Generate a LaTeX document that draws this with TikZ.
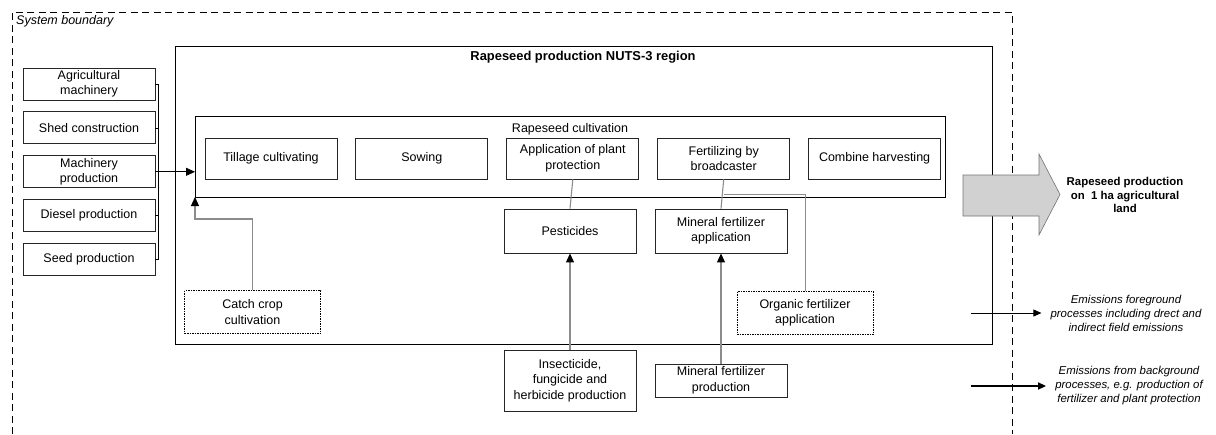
\documentclass[tikz,border=0pt]{standalone}
\usepackage{fontspec}
\setmainfont{Liberation Sans}
\usetikzlibrary{arrows.meta,positioning}

\begin{document}
\begin{tikzpicture}[x=1pt,y=-1pt,
  box/.style={draw=black!85,line width=0.9pt,minimum width=132pt,minimum height=41pt,inner sep=1pt,align=center,font=\fontsize{12.5}{15.5}\selectfont},
  inbox/.style={box,minimum height=32pt},
  optbox/.style={box,draw=black,dash pattern=on 1.5pt off 1pt,line width=0.7pt,minimum width=136pt,minimum height=43pt},
  flow/.style={draw=black!45,line width=1.1pt},
  tip/.style={-{Triangle[color=black,length=9pt,width=8pt]}},
  emis/.style={align=center,inner sep=0pt,font=\fontsize{11.4}{14}\selectfont\itshape}]
\useasboundingbox (0,0) rectangle (1216,434);
\draw[line width=0.9pt,dash pattern=on 7pt off 4.5pt] (12,434) -- (12,12) -- (1012,12) -- (1012,434);
\node[anchor=west,inner sep=2pt,font=\fontsize{12.5}{14}\selectfont\itshape] (sysb) at (14,21) {System boundary};

\node[draw,line width=1pt,minimum width=817pt,minimum height=298pt,inner sep=0pt,outer sep=0pt] (nuts) at (583.5,195) {};
\node[font=\fontsize{12.9}{15}\selectfont\bfseries] (title) at (583,57) {Rapeseed production NUTS-3 region};
\node[draw,line width=0.9pt,minimum width=750pt,minimum height=81pt,inner sep=0pt,outer sep=0pt] (cult) at (570,156.5) {};
\node[font=\fontsize{12.5}{15}\selectfont] (cultlbl) at (570,129) {Rapeseed cultivation};

\node[box] (till) at (271,158.5) {Tillage cultivating};
\node[box,right=18pt of till] (sow) {Sowing};
\node[box,right=18pt of sow] (appl) {Application of plant\\protection};
\node[box,right=18pt of appl] (fert) {Fertilizing by\\broadcaster};
\node[box,right=18pt of fert] (comb) {Combine harvesting};

\node[inbox] (agri) at (89,84) {Agricultural\\machinery};
\node[inbox,below=11pt of agri] (shed) {Shed construction};
\node[inbox,below=11pt of shed] (mach) {Machinery\\production};
\node[inbox,below=11pt of mach] (dies) {Diesel production};
\node[inbox,below=11pt of dies] (seed) {Seed production};
\foreach \n in {agri,shed,mach,dies,seed}
  \draw[line width=0.8pt] (\n.east) -- ++(3,0);
\draw[line width=0.8pt] ([xshift=3pt]agri.east) -- ([xshift=3pt]seed.east);
\draw[line width=0.8pt,tip] ([xshift=3pt]mach.east) -- (cult.west |- mach.east);

\node[optbox] (catch) at (252.5,312) {Catch crop\\cultivation};
\coordinate (bend) at ([yshift=-22pt]cult.south west);
\draw[flow,tip] (catch.north) |- (bend) -- (cult.south west);

\node[box,minimum height=44pt] (pest) at (570,231) {Pesticides};
\node[box,minimum height=44pt] (mfa) at (721,231) {Mineral fertilizer\\application};
\node[box,minimum height=61pt] (insect) at (570,380.5) {Insecticide,\\fungicide and\\herbicide production};
\node[box,minimum height=33pt] (mfp) at (721,380.5) {Mineral fertilizer\\production};
\draw[flow] (appl.south) -- (pest.north);
\draw[flow] (fert.south) -- (mfa.north);
\draw[flow,tip] (insect.north) -- (pest.south);
\draw[flow,tip] (mfp.north) -- (mfa.south);

\node[optbox] (org) at (805,313) {Organic fertilizer\\application};
\coordinate (ojoin) at ([yshift=-15pt]fert.south);
\draw[flow,line width=0.8pt] (org.north) |- (ojoin);

\draw[draw=black!55,line width=0.6pt,fill=black!18] (963,175) -- (1039,175) -- (1039,154) -- (1060,194.5)
  -- (1039,235) -- (1039,216) -- (963,216) -- cycle;
\node[align=center,inner sep=0pt,font=\fontsize{11.4}{13.5}\selectfont\bfseries] (out) at (1125,195)
  {Rapeseed production\\on\ \ 1 ha agricultural\\land};

\coordinate (fg) at (971,313);
\coordinate (bg) at (971,386);
\node[emis] (fgtxt) at (1126,313) {Emissions foreground\\processes including drect and\\indirect field emissions};
\node[emis] (bgtxt) at (1129,386) {Emissions from background\\processes, e.g. production of\\fertilizer and plant protection};
\draw[line width=0.8pt,-{Triangle[length=8pt,width=7pt]},shorten >=9pt] (fg) -- (fgtxt.west);
\draw[line width=1.5pt,-{Triangle[length=8pt,width=7pt]},shorten >=9pt] (bg) -- (bgtxt.west);
\end{tikzpicture}
\end{document}
